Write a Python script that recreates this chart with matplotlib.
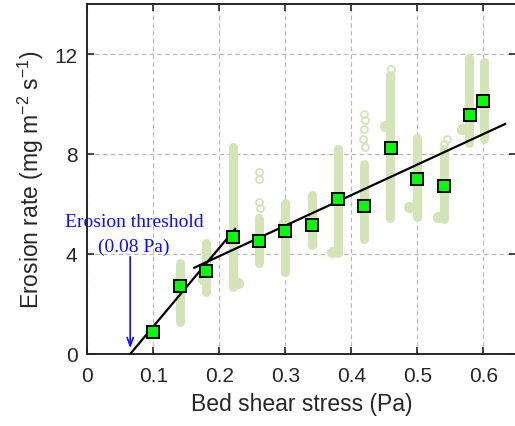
import matplotlib
matplotlib.use("Agg")
import matplotlib.pyplot as plt

plt.rcParams['font.family'] = ['Liberation Sans', 'DejaVu Sans']
plt.rcParams['mathtext.default'] = 'regular'

# ---- data ----
# mean erosion rate per shear-stress bin
mean_x = [0.10, 0.14, 0.18, 0.22, 0.26, 0.30, 0.34, 0.38, 0.42, 0.46, 0.50, 0.54, 0.58, 0.60]
mean_y = [0.89, 2.71, 3.31, 4.69, 4.53, 4.93, 5.18, 6.20, 5.93, 8.24, 7.00, 6.71, 9.57, 10.12]

# dense raw-measurement columns (x, lowest y, highest y)
col_x = [0.141, 0.180, 0.220, 0.260, 0.300, 0.340, 0.380, 0.420, 0.459, 0.500, 0.540, 0.579, 0.601]
col_lo = [1.30, 2.50, 2.70, 3.65, 3.30, 4.35, 4.05, 4.60, 5.45, 5.50, 5.40, 8.45, 8.60]
col_hi = [3.65, 4.45, 8.30, 5.45, 6.05, 6.35, 8.20, 7.60, 11.15, 8.65, 8.20, 11.85, 11.70]

# scattered single raw measurements (open circles)
out_x = [0.260, 0.260, 0.260, 0.262, 0.419, 0.421, 0.419, 0.418, 0.421, 0.545, 0.541, 0.460]
out_y = [7.30, 7.00, 6.10, 5.85, 9.60, 9.35, 9.00, 8.60, 8.30, 8.62, 8.40, 11.40]

# side clusters of raw measurements (filled blobs)
blob_x = [0.487, 0.532, 0.567, 0.451, 0.371, 0.228, 0.176, 0.296]
blob_y = [5.90, 5.50, 9.00, 9.13, 4.10, 2.85, 3.00, 5.20]

# fitted relations
fit1_x = [0.065, 0.224]
fit1_y = [0.00, 5.00]
fit2_x = [0.162, 0.633]
fit2_y = [3.45, 9.20]

# erosion threshold arrow
thr_x = 0.065
thr_y0, thr_y1 = 4.0, 0.12

x_ticks = [0, 0.1, 0.2, 0.3, 0.4, 0.5, 0.6]
x_ticklabels = ['0', '0.1', '0.2', '0.3', '0.4', '0.5', '0.6']
y_ticks = [0, 4, 8, 12]

# ---- plot ----
W, H = 515, 427
fig = plt.figure(figsize=(W / 100, H / 100), dpi=100)
ax = fig.add_axes([87.3 / W, 72 / H, (516.3 - 87.3) / W, 350 / H])

light = '#d3e5b6'
ax.vlines(col_x, col_lo, col_hi, colors=light, linewidth=6.5,
          capstyle='round', zorder=2)
ax.plot(blob_x, blob_y, 'o', color=light, markersize=7, zorder=2)
ax.plot(out_x, out_y, 'o', mfc='none', mec=light, mew=1.3, markersize=5, zorder=2)

ax.plot(fit1_x, fit1_y, color='black', lw=1.6, zorder=3)
ax.plot(fit2_x, fit2_y, color='black', lw=1.6, zorder=3)

ax.plot(mean_x, mean_y, 's', mfc='#00ff00', mec='black', mew=1.4,
        markersize=9.2, zorder=4, linestyle='none')

blue = '#0d0dff'
ax.annotate('', xy=(thr_x, thr_y1), xytext=(thr_x, thr_y0),
            arrowprops=dict(arrowstyle='->,head_length=0.6,head_width=0.22',
                            color=blue, lw=1.2), zorder=5)
serif = ['Liberation Serif', 'DejaVu Serif']
ax.text(0.071, 5.13, 'Erosion threshold', color=blue, family=serif,
        fontsize=14, ha='center', va='baseline', zorder=5)
ax.text(0.071, 4.13, '(0.08 Pa)', color=blue, family=serif,
        fontsize=14, ha='center', va='baseline', zorder=5)

ax.set_xlim(0, 0.65)
ax.set_ylim(0, 14)
ax.set_xticks(x_ticks)
ax.set_xticklabels(x_ticklabels)
ax.set_yticks(y_ticks)

ax.grid(True, color='#b5b5b5', linestyle=(0, (4, 3)), linewidth=0.8)
ax.set_axisbelow(True)

for s in ax.spines.values():
    s.set_color('#262626')
    s.set_linewidth(1.4)

ax.tick_params(direction='in', length=5, width=1.2, color='#262626',
               labelcolor='#262626', labelsize=15, top=True, right=True)
ax.tick_params(axis='x', pad=9)
ax.tick_params(axis='y', pad=7)

ax.set_xlabel('Bed shear stress (Pa)', fontsize=16.5, color='#262626', labelpad=5)
ax.set_ylabel('Erosion rate (mg m$^{-2}$ s$^{-1}$)', fontsize=16.5,
              color='#262626', labelpad=6)

fig.savefig('out.png', dpi=100)
